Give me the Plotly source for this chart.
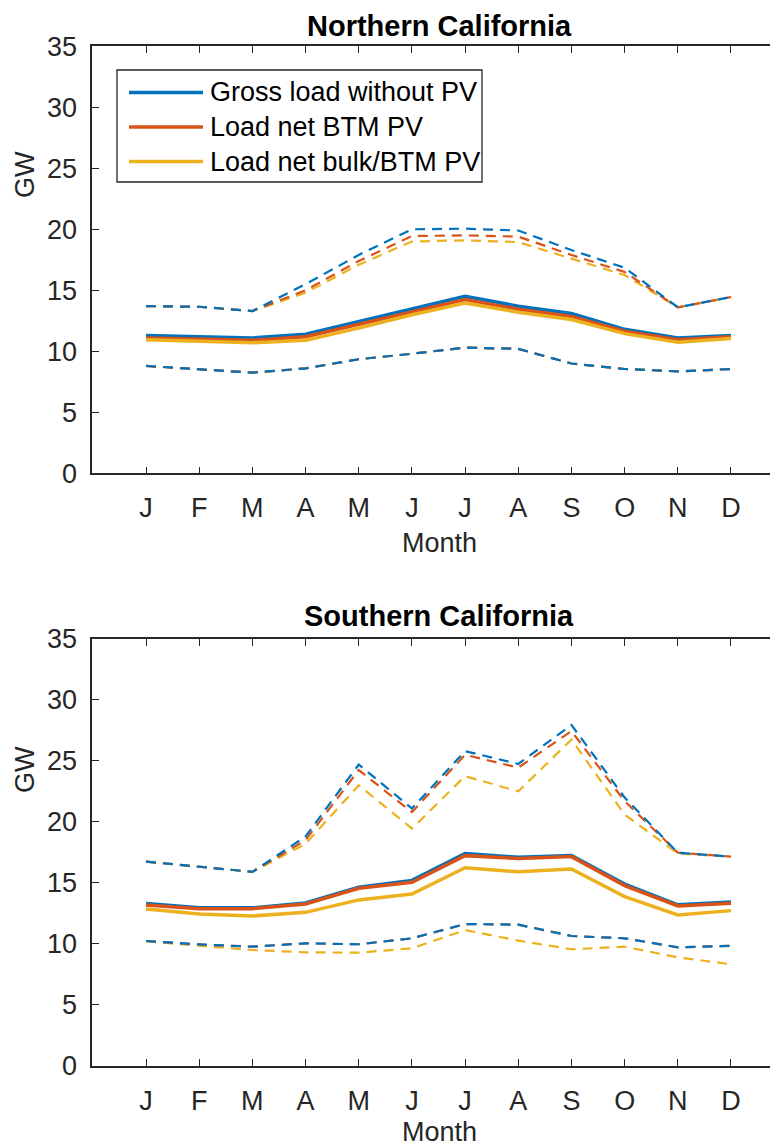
import plotly.graph_objects as go

months = ['J', 'F', 'M', 'A', 'M', 'J', 'J', 'A', 'S', 'O', 'N', 'D']
month_idx = list(range(1, 13))

# Northern California (GW)
n_gross_mean = [11.3, 11.2, 11.1, 11.4, 12.45, 13.5, 14.5, 13.7, 13.1, 11.8, 11.1, 11.3]
n_btm_mean = [11.1, 11.0, 10.9, 11.2, 12.2, 13.25, 14.25, 13.45, 12.85, 11.65, 10.95, 11.2]
n_bulk_mean = [10.95, 10.85, 10.7, 10.9, 11.9, 13.0, 13.95, 13.2, 12.6, 11.45, 10.75, 11.05]
n_gross_max = [13.7, 13.65, 13.3, 15.5, 17.9, 20.0, 20.05, 19.9, 18.3, 16.85, 13.6, 14.45]
n_btm_max = [13.7, 13.65, 13.3, 15.0, 17.4, 19.45, 19.5, 19.4, 17.9, 16.5, 13.6, 14.45]
n_bulk_max = [13.7, 13.65, 13.3, 14.8, 17.1, 19.0, 19.1, 18.95, 17.6, 16.25, 13.6, 14.45]
n_gross_min = [8.8, 8.55, 8.25, 8.6, 9.35, 9.8, 10.3, 10.2, 9.0, 8.55, 8.35, 8.55]
n_btm_min = [8.8, 8.55, 8.25, 8.6, 9.35, 9.8, 10.3, 10.2, 9.0, 8.55, 8.35, 8.55]
n_bulk_min = [8.8, 8.55, 8.25, 8.6, 9.35, 9.8, 10.3, 10.2, 9.0, 8.55, 8.35, 8.55]

# Southern California (GW)
s_gross_mean = [13.3, 12.95, 12.95, 13.35, 14.65, 15.2, 17.4, 17.1, 17.25, 14.9, 13.2, 13.42]
s_btm_mean = [13.18, 12.88, 12.88, 13.26, 14.55, 15.04, 17.23, 17.0, 17.15, 14.77, 13.1, 13.32]
s_bulk_mean = [12.85, 12.45, 12.28, 12.58, 13.6, 14.08, 16.24, 15.9, 16.14, 13.87, 12.36, 12.72]
s_gross_max = [16.74, 16.3, 15.9, 18.8, 24.7, 21.1, 25.8, 24.75, 27.95, 22.0, 17.47, 17.15]
s_btm_max = [16.74, 16.3, 15.9, 18.5, 24.25, 20.8, 25.5, 24.45, 27.45, 21.7, 17.47, 17.15]
s_bulk_max = [16.74, 16.3, 15.9, 18.2, 23.0, 19.45, 23.75, 22.5, 26.75, 20.6, 17.4, 17.15]
s_gross_min = [10.23, 9.95, 9.76, 10.04, 9.96, 10.45, 11.62, 11.57, 10.64, 10.45, 9.71, 9.84]
s_btm_min = [10.23, 9.95, 9.76, 10.04, 9.96, 10.45, 11.62, 11.57, 10.64, 10.45, 9.71, 9.84]
s_bulk_min = [10.2, 9.82, 9.49, 9.3, 9.27, 9.63, 11.13, 10.26, 9.55, 9.76, 8.89, 8.32]

series_names = ['Gross load without PV', 'Load net BTM PV', 'Load net bulk/BTM PV']
colors = ['#0072BD', '#D95319', '#EDB120']

# The page body has an 8px margin, so the figure is drawn 8px smaller and
# every reference pixel position is shifted by that offset.
OFF = 8
W, H = 778 - OFF, 1148 - OFF
FONT = 'Arial, Liberation Sans, Helvetica, sans-serif'
AX = '#262626'

fig = go.Figure()

panels = [
    ('x', 'y', [(n_gross_mean, n_gross_max, n_gross_min),
                (n_btm_mean, n_btm_max, n_btm_min),
                (n_bulk_mean, n_bulk_max, n_bulk_min)]),
    ('x2', 'y2', [(s_gross_mean, s_gross_max, s_gross_min),
                  (s_btm_mean, s_btm_max, s_btm_min),
                  (s_bulk_mean, s_bulk_max, s_bulk_min)]),
]

DASH = '10px,7px'
for xa, ya, groups in panels:
    # dashed extremes: yellow first, blue last (blue on top)
    for (mean, mx, mn), col in reversed(list(zip(groups, colors))):
        fig.add_trace(go.Scatter(x=month_idx, y=mx, mode='lines', xaxis=xa, yaxis=ya,
                                 line=dict(color=col, width=2.2, dash=DASH),
                                 showlegend=False, hoverinfo='skip'))
        fig.add_trace(go.Scatter(x=month_idx, y=mn, mode='lines', xaxis=xa, yaxis=ya,
                                 line=dict(color=col, width=2.2, dash=DASH),
                                 showlegend=False, hoverinfo='skip'))
    for (mean, mx, mn), name, col in zip(groups, series_names, colors):
        fig.add_trace(go.Scatter(x=month_idx, y=mean, mode='lines', name=name,
                                 xaxis=xa, yaxis=ya,
                                 line=dict(color=col, width=3.5),
                                 showlegend=False))

def px_x(p):
    return (p - OFF) / W

def px_y(p):
    return 1 - (p - OFF) / H

x_left = 92.3
x_span = (778 - x_left) / 53.18
xrange_ = [-0.01, -0.01 + x_span]

axis_common = dict(showline=True, linecolor=AX, linewidth=1.5, ticks='inside',
                   ticklen=7, tickwidth=1.3, tickcolor=AX, showgrid=False, zeroline=False,
                   automargin=False,
                   tickfont=dict(family=FONT, size=27, color=AX))

fig.update_layout(
    width=W, height=H,
    margin=dict(l=0, r=0, t=0, b=0, autoexpand=False),
    paper_bgcolor='white', plot_bgcolor='white',
    showlegend=False,
    xaxis=dict(domain=[px_x(x_left), 1], range=xrange_, anchor='y',
               tickvals=month_idx, ticktext=months, mirror='ticks',
               ticklabelstandoff=10, **axis_common),
    yaxis=dict(domain=[px_y(473.3), px_y(46.3)], range=[0, 35], anchor='x',
               tickvals=[0, 5, 10, 15, 20, 25, 30, 35], ticklabelstandoff=8, **axis_common),
    xaxis2=dict(domain=[px_x(x_left), 1], range=xrange_, anchor='y2',
                tickvals=month_idx, ticktext=months, mirror='ticks',
                ticklabelstandoff=10, **axis_common),
    yaxis2=dict(domain=[px_y(1065.7), px_y(639)], range=[0, 35], anchor='x2',
                tickvals=[0, 5, 10, 15, 20, 25, 30, 35], ticklabelstandoff=8, **axis_common),
)

ann = []
# titles
for text, yc in [('Northern California', 26), ('Southern California', 616)]:
    ann.append(dict(text='<b>' + text + '</b>', x=px_x(439), y=px_y(yc), xref='paper', yref='paper',
                    showarrow=False, xanchor='center', yanchor='middle',
                    font=dict(family=FONT, size=29, color='black')))
# x labels
for yc in [543, 1132]:
    ann.append(dict(text='Month', x=px_x(439), y=px_y(yc), xref='paper', yref='paper',
                    showarrow=False, xanchor='center', yanchor='middle',
                    font=dict(family=FONT, size=27, color=AX)))
# y labels
for yc in [175, 770]:
    ann.append(dict(text='GW', x=px_x(25), y=px_y(yc), xref='paper', yref='paper',
                    showarrow=False, xanchor='center', yanchor='middle', textangle=-90,
                    font=dict(family=FONT, size=27, color=AX)))

# legend (drawn in paper coordinates)
shapes = [dict(type='rect', xref='paper', yref='paper',
               x0=px_x(117), x1=px_x(482), y0=px_y(182), y1=px_y(70),
               line=dict(color=AX, width=1.3), fillcolor='white', layer='above')]
for i, (name, col) in enumerate(zip(series_names, colors)):
    yc = 92.5 + i * 34.5
    shapes.append(dict(type='line', xref='paper', yref='paper',
                       x0=px_x(129), x1=px_x(203), y0=px_y(yc), y1=px_y(yc),
                       line=dict(color=col, width=3.5), layer='above'))
    ann.append(dict(text=name, x=px_x(208), y=px_y(yc), xref='paper', yref='paper',
                    showarrow=False, xanchor='left', yanchor='middle',
                    font=dict(family=FONT, size=27, color='black')))

fig.update_layout(annotations=ann, shapes=shapes)

fig.write_html('out.html')
